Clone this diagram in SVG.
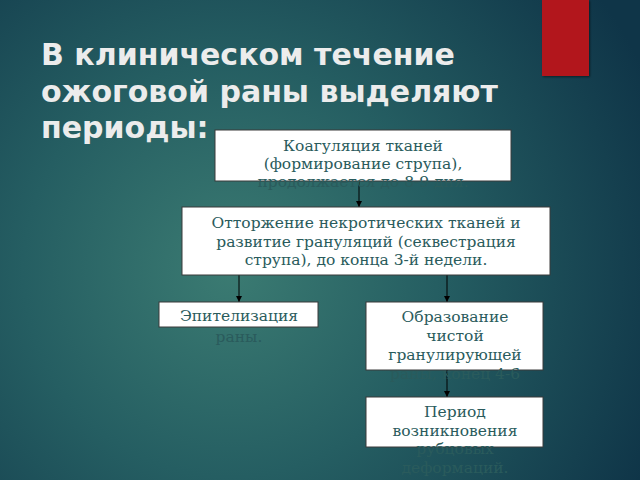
<svg xmlns="http://www.w3.org/2000/svg" width="640" height="480" viewBox="0 0 640 480">
<defs>
<radialGradient id="bg" cx="230" cy="270" r="460" gradientUnits="userSpaceOnUse">
<stop offset="0" stop-color="#3b7b72"/>
<stop offset="0.45" stop-color="#255e62"/>
<stop offset="1" stop-color="#0f3548"/>
</radialGradient>
<marker id="ah" viewBox="0 0 10 10" refX="10" refY="5" markerWidth="6" markerHeight="7" orient="auto" markerUnits="userSpaceOnUse">
<path d="M0,0 L10,5 L0,10 z" fill="#000"/>
</marker>
<filter id="sh" x="-20%" y="-20%" width="140%" height="140%">
<feDropShadow dx="1" dy="1" stdDeviation="1" flood-color="#000" flood-opacity="0.5"/>
</filter>
</defs>
<style>
.box{fill:#fff;stroke:#3a3a3a;stroke-width:1}
.t{font-family:"DejaVu Serif","Liberation Serif",serif;font-size:15.5px;fill:#2a5b5c;text-anchor:middle}
.title{font-family:"DejaVu Sans","Liberation Sans",sans-serif;font-weight:bold;font-size:30px;fill:#ececec}
.c{stroke:#000;stroke-width:1;fill:none;marker-end:url(#ah)}
</style>
<rect width="640" height="480" fill="url(#bg)"/>
<rect x="542" y="0" width="47" height="76" fill="#b2191a" filter="url(#sh)"/>
<g id="title">
<text class="title" x="41" y="65">В клиническом течение</text>
<text class="title" x="41" y="102">ожоговой раны выделяют</text>
<text class="title" x="41" y="138">периоды:</text>
</g>
<g id="connectors">
<line class="c" x1="359" y1="181" x2="359" y2="207"/>
<line class="c" x1="239" y1="275" x2="239" y2="302"/>
<line class="c" x1="447" y1="275" x2="447" y2="302"/>
<line class="c" x1="447" y1="370" x2="447" y2="397"/>
</g>
<g id="n1">
<rect class="box" x="215" y="130" width="296" height="51"/>
<text class="t" x="363" y="151">Коагуляция тканей</text>
<text class="t" x="363" y="169">(формирование струпа),</text>
<text class="t" x="363" y="187">продолжается до 8-9 дня.</text>
</g>
<g id="n2">
<rect class="box" x="182" y="207" width="368" height="68"/>
<text class="t" x="366" y="228">Отторжение некротических тканей и</text>
<text class="t" x="366" y="247">развитие грануляций (секвестрация</text>
<text class="t" x="366" y="265">струпа), до конца 3-й недели.</text>
</g>
<g id="n3">
<rect class="box" x="159" y="302" width="159" height="25"/>
<text class="t" x="239" y="321">Эпителизация</text>
<text class="t" x="239" y="342">раны.</text>
</g>
<g id="n4">
<rect class="box" x="366" y="302" width="177" height="68"/>
<text class="t" x="455" y="322">Образование</text>
<text class="t" x="455" y="341">чистой</text>
<text class="t" x="455" y="360">гранулирующей</text>
<text class="t" x="455" y="379">раны, конец 4-6</text>
</g>
<g id="n5">
<rect class="box" x="366" y="397" width="177" height="50"/>
<text class="t" x="455" y="417">Период</text>
<text class="t" x="455" y="436">возникновения</text>
<text class="t" x="455" y="454">рубцовых</text>
<text class="t" x="455" y="473">деформаций.</text>
</g>
</svg>
